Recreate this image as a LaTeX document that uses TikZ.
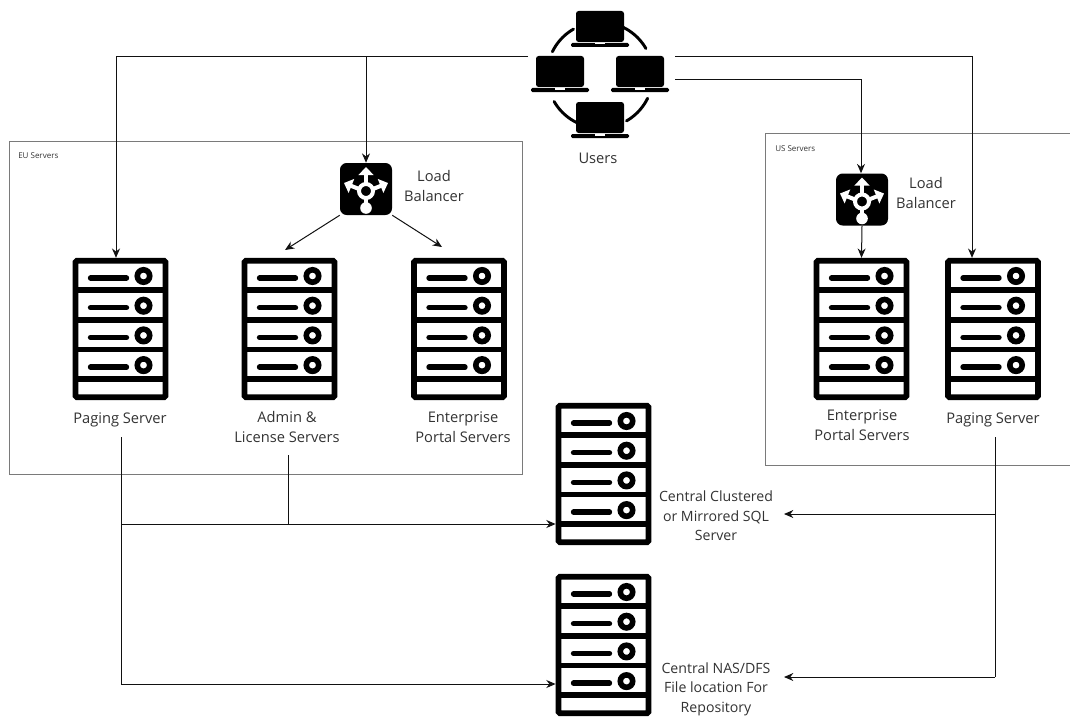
\documentclass[tikz,border=0pt]{standalone}
\usepackage{fontspec}
\setmainfont{Open Sans}
\usetikzlibrary{arrows.meta,calc}
\definecolor{ink}{HTML}{111111}
\definecolor{txt}{HTML}{333333}
\definecolor{edge}{HTML}{7A7A7A}
\tikzset{
  x=0.75pt,y=-0.75pt,
  link/.style={draw=ink,line width=0.75pt},
  arrowlink/.style={link,-{Stealth[length=7pt,width=6pt]}},
  region/.style={draw=edge,line width=0.6pt},
  lbl/.style={text=txt,font=\fontsize{11}{14.6}\selectfont,align=center,inner sep=0pt},
  widelbl/.style={text=txt,font=\fontsize{10.6}{14.6}\selectfont,align=center,inner sep=0pt},
  smalllbl/.style={text=txt,font=\fontsize{6}{8}\selectfont,inner sep=0pt,anchor=west},
  serverframe/.style={draw=black,line width=4.3pt,rounded corners=1.2pt,minimum width=67.5pt,minimum height=102.5pt,inner sep=0pt},
  lbbox/.style={fill=black,rounded corners=5pt,minimum width=39pt,minimum height=39pt,inner sep=0pt},
  serverdetail/.pic={
    \foreach \r in {0,1,2,3}{
      \draw[black,line width=4.3pt] (-45,{-39+29.7*\r}) -- (45,{-39+29.7*\r});
      \draw[black,line width=4pt,line cap=round] (-30,{-51+29.7*\r}) -- (6,{-51+29.7*\r});
      \draw[black,line width=4.2pt] (23,{-53+29.7*\r}) circle[radius=6.2];
    }
  },
  lbdetail/.pic={
    \draw[white,line width=3pt] (0,2) circle[radius=7];
    \fill[white] (0,19) circle[radius=5.8];
    \draw[white,line width=3pt] (0,9) -- (0,15);
    \draw[white,line width=3pt,-{Triangle[length=6pt,width=11pt]}] (0,-5) -- (0,-22);
    \draw[white,line width=3pt,-{Triangle[length=6pt,width=11pt]}] (-7,0) -- (-22,-6);
    \draw[white,line width=3pt,-{Triangle[length=6pt,width=11pt]}] (7,0) -- (22,-6);
  },
  laptop/.pic={
    \fill[black,rounded corners=2pt] (-24,-15) rectangle (24,16);
    \fill[black,rounded corners=1pt] (-29,17) rectangle (29,21);
    \fill[white] (-5,17) rectangle (5,18.5);
  }
}
\begin{document}
\begin{tikzpicture}
\useasboundingbox (0,0) rectangle (1070,717);
\fill[white] (0,0) rectangle (1070,717);

% regions
\draw[region] (9,141) rectangle (522,474);
\draw[region] (1070,133) -- (765,133) -- (765,465) -- (1070,465);
\node[smalllbl] (eulabel) at (18,156) {EU Servers};
\node[smalllbl] (uslabel) at (775,149) {US Servers};

% users
\foreach \a in {120,30,-60,-150}
  \draw[black,line width=2.2pt,line cap=round] plot[domain=\a:\a+34,samples=14] ({600+53*cos(\x)},{75-53*sin(\x)});
\pic at (600,26) {laptop};
\pic at (560,71) {laptop};
\pic at (640,71) {laptop};
\pic at (600,117) {laptop};
\node[lbl] (userslbl) at (598,158) {Users};

% load balancers
\node[lbbox] (lbeu) at (366,189) {};
\pic at (366,189) {lbdetail};
\node[lbl] (lbeulbl) at (434,186) {Load\\Balancer};
\node[lbbox] (lbus) at (862,199.5) {};
\pic at (862,199.5) {lbdetail};
\node[lbl] (lbuslbl) at (926,193) {Load\\Balancer};

% servers
\foreach \n/\cx/\cy in {pageu/120.5/329,admin/289.5/329,enteu/459/329,entus/861.5/329,pagus/993/329,sql/603.5/474,nas/603.5/645}{
  \node[serverframe] (\n) at (\cx,\cy) {};
  \pic at (\cx,\cy) {serverdetail};
}
\node[lbl] (pageulbl) at (120,420) {Paging Server};
\node[lbl] (adminlbl) at (287,427) {Admin \&\\License Servers};
\node[lbl] (enteulbl) at (463,427) {Enterprise\\Portal Servers};
\node[lbl] (entuslbl) at (862,425) {Enterprise\\Portal Servers};
\node[lbl] (paguslbl) at (993,420) {Paging Server};
\node[widelbl] (sqllbl) at (716,516) {Central Clustered\\or Mirrored SQL\\Server};
\node[widelbl] (naslbl) at (716,689) {Central NAS/DFS\\File location For\\Repository};

% connector points
\coordinate (usersl) at (528,57);
\coordinate (usersr1) at (675,57);
\coordinate (usersr2) at (675,80);
\coordinate (eudrop) at (116,57);
\coordinate (lbdrop) at (366,57);
\coordinate (usdrop) at (972,57);
\coordinate (lbusdrop) at (861,80);
\coordinate (eutrunk) at (121,437);
\coordinate (sqljoin) at (121,524);
\coordinate (nasjoin) at (121,684);
\coordinate (adminjoin) at (288,524);
\coordinate (adminstart) at (288,455);
\coordinate (ustrunk) at (995,437);
\coordinate (ussql) at (995,514);
\coordinate (usnas) at (995,677);
\coordinate (sqlarrow) at (784,514);
\coordinate (nasarrow) at (784,677);
\coordinate (lbleft) at (285,250);
\coordinate (lbright) at (442,247);

% connectors
\draw[arrowlink] (usersl) -- (eudrop) -- (eudrop |- pageu.north);
\draw[arrowlink] (lbdrop) -- (lbeu.north);
\draw[arrowlink] (usersr1) -- (usdrop) -- (usdrop |- pagus.north);
\draw[arrowlink] (usersr2) -- (lbusdrop) -- (lbus.north -| lbusdrop);
\draw[arrowlink] (lbeu.south west) -- (lbleft);
\draw[arrowlink] (lbeu.south east) -- (lbright);
\draw[arrowlink] (lbus.south) -- (entus.north);
\draw[link] (eutrunk) -- (nasjoin);
\draw[arrowlink] (sqljoin) -- (sqljoin -| sql.west);
\draw[arrowlink] (nasjoin) -- (nasjoin -| nas.west);
\draw[link] (adminstart) -- (adminjoin);
\draw[link] (ustrunk) -- (usnas);
\draw[arrowlink] (ussql) -- (sqlarrow);
\draw[arrowlink] (usnas) -- (nasarrow);
\end{tikzpicture}
\end{document}
